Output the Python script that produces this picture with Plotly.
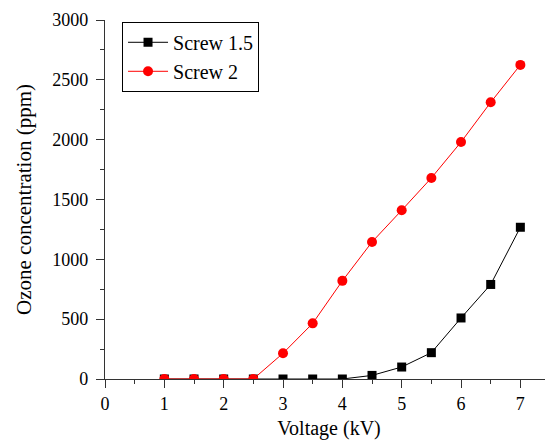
import plotly.graph_objects as go

voltage = [1, 1.5, 2, 2.5, 3, 3.5, 4, 4.5, 5, 5.5, 6, 6.5, 7]
screw_15 = [0, 0, 0, 0, 0, 0, 0, 30, 100, 220, 510, 790, 1268]
screw_2 = [0, 0, 0, 0, 215, 465, 820, 1145, 1410, 1680, 1980, 2312, 2625]

FAM = "Liberation Serif, Times New Roman, serif"
tickfont = dict(family=FAM, size=18, color="black")

fig = go.Figure()
fig.add_trace(go.Scatter(x=voltage, y=screw_15, name="Screw 1.5", mode="lines+markers",
                         line=dict(color="black", width=1),
                         marker=dict(symbol="square", size=9, color="black")))
fig.add_trace(go.Scatter(x=voltage, y=screw_2, name="Screw 2", mode="lines+markers",
                         line=dict(color="red", width=1),
                         marker=dict(symbol="circle", size=10, color="red")))

# page body has an 8px margin, so the figure is sized/offset to compensate
fig.update_layout(
    width=545, height=433,
    margin=dict(l=97, r=0, t=12, b=62),
    paper_bgcolor="white", plot_bgcolor="white",
    font=dict(family=FAM, size=18, color="black"),
    showlegend=True,
    legend=dict(x=0.038, y=0.995, xanchor="left", yanchor="top",
                bordercolor="black", borderwidth=1, bgcolor="white",
                font=dict(family=FAM, size=20, color="black"),
                tracegroupgap=0, itemwidth=40),
    xaxis=dict(range=[0, 7.55], tickvals=[0, 1, 2, 3, 4, 5, 6, 7], showgrid=False, zeroline=False,
               showline=True, linecolor="#333", linewidth=1.3, automargin=False,
               ticks="outside", ticklen=8, tickcolor="#333",
               minor=dict(dtick=0.5, ticks="outside", ticklen=4, tickcolor="#333"),
               title=dict(text="Voltage (kV)", standoff=8,
                          font=dict(family=FAM, size=20, color="black")),
               tickfont=tickfont),
    yaxis=dict(range=[0, 3000], dtick=500, showgrid=False, zeroline=False,
               showline=True, linecolor="#333", linewidth=1.3, automargin=False,
               ticks="outside", ticklen=8, tickcolor="#333", ticklabelstandoff=4,
               minor=dict(dtick=250, ticks="outside", ticklen=4, tickcolor="#333"),
               title=dict(text="Ozone concentration (ppm)", standoff=14,
                          font=dict(family=FAM, size=21, color="black")),
               tickfont=tickfont),
)

fig.write_html("out.html")
